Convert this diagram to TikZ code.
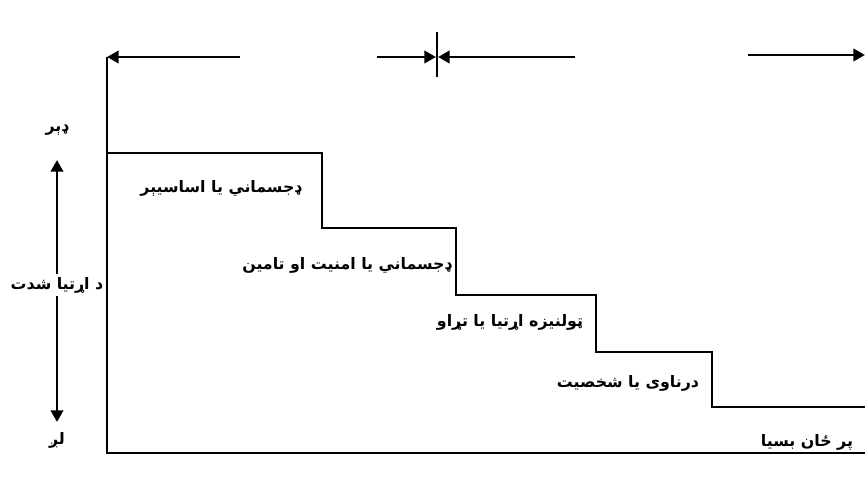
\documentclass[tikz,border=0pt]{standalone}
\usepackage{fontspec}
\newfontfamily\arabicfont[Script=Arabic]{DejaVu Sans}
\TeXXeTstate=1
\usetikzlibrary{arrows.meta}

% right-to-left label text
\newcommand{\rtl}[1]{\beginR#1\endR}

\begin{document}
\begin{tikzpicture}[
  x=0.03cm,y=-0.03cm,
  line width=2.5pt,
  lbl/.style={font=\arabicfont\bfseries\fontsize{13.5}{16}\selectfont,inner sep=1pt},
  tip/.style={-{Triangle[length=10pt,width=10.5pt]}}
]
  \useasboundingbox (0,0) rectangle (865,483);

  % axes and the steps
  \draw (107,57) -- (107,453) -- (865,453);
  \draw (107,153) -| (322,228) -| (456,295) -| (596,352) -| (712,407) -- (865,407);

  % arrows along the top
  \coordinate (a1) at (240,57);  \coordinate (a0) at (107,57);
  \coordinate (b0) at (377,57);  \coordinate (b1) at (436,57);
  \coordinate (c0) at (575,57);  \coordinate (c1) at (438,57);
  \coordinate (d0) at (748,55);  \coordinate (d1) at (865,55);
  \draw[tip] (a1) -- (a0);
  \draw[tip] (b0) -- (b1);
  \draw[tip] (c0) -- (c1);
  \draw[tip] (d0) -- (d1);
  \coordinate (t0) at (437,32);  \coordinate (t1) at (437,77);
  \draw (t0) -- (t1);

  % level of need
  \node[lbl] (more) at (57,130) {\rtl{ډېر}};
  \node[lbl] (need) at (57,285) {\rtl{د اړتيا شدت}};
  \node[lbl] (less) at (57,440) {\rtl{لږ}};
  \coordinate (up)   at (57,160);
  \coordinate (down) at (57,422);
  \draw[tip] (need.north) -- (up);
  \draw[tip] (need.south) -- (down);

  % step labels
  \node[lbl] (s1) at (221,188) {\rtl{ډجسماني يا اساسيېر}};
  \node[lbl] (s2) at (347,265) {\rtl{ډجسماني يا امنيت او تامين}};
  \node[lbl] (s3) at (510,322) {\rtl{ټولنيزه اړتيا يا تړاو}};
  \node[lbl] (s4) at (628,383) {\rtl{درناوی يا شخصيت}};
  \node[lbl] (s5) at (807,442) {\rtl{پر ځان بسيا}};
\end{tikzpicture}
\end{document}
